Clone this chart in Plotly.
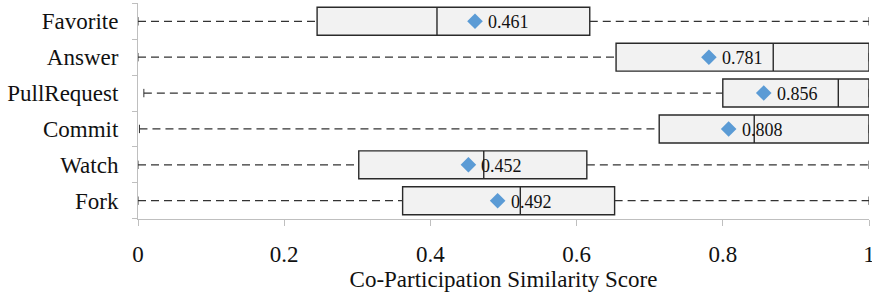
import plotly.graph_objects as go

categories = ["Favorite", "Answer", "PullRequest", "Commit", "Watch", "Fork"]
mins = [0.0, 0.0, 0.008, 0.002, 0.0, 0.0]
q1 = [0.245, 0.654, 0.800, 0.713, 0.302, 0.362]
medians = [0.409, 0.869, 0.958, 0.843, 0.473, 0.523]
q3 = [0.618, 1.0, 1.0, 1.0, 0.614, 0.652]
maxs = [1.0, 1.0, 1.0, 1.0, 1.0, 1.0]
means = [0.461, 0.781, 0.856, 0.808, 0.452, 0.492]
mean_labels = ["0.461", "0.781", "0.856", "0.808", "0.452", "0.492"]
x_ticks = [0, 0.2, 0.4, 0.6, 0.8, 1]
x_tick_labels = ["0", "0.2", "0.4", "0.6", "0.8", "1"]

FONT = "Liberation Serif"
DARK = "#333333"

fig = go.Figure()

# dashed whiskers
wx, wy = [], []
for c, lo, a, b, hi in zip(categories, mins, q1, q3, maxs):
    wx += [lo, a, None, b, hi, None]
    wy += [c, c, None, c, c, None]
fig.add_trace(go.Scatter(x=wx, y=wy, mode="lines",
                         line=dict(color=DARK, width=1.2, dash="8px,5px"),
                         hoverinfo="skip", showlegend=False))
# whisker caps
fig.add_trace(go.Scatter(x=mins + maxs, y=categories + categories, mode="markers",
                         marker=dict(symbol="line-ns", size=6,
                                     line=dict(color=DARK, width=1)),
                         hoverinfo="skip", showlegend=False))

# boxes
fig.add_trace(go.Box(y=categories, q1=q1, median=medians, q3=q3,
                     lowerfence=q1, upperfence=q3, orientation="h",
                     fillcolor="#f2f2f2", line=dict(color="#2a2a2a", width=1.4),
                     whiskerwidth=0, showlegend=False))

# means
fig.add_trace(go.Scatter(x=means, y=categories, mode="markers",
                         marker=dict(symbol="diamond", size=12, color="#5b9bd5"),
                         showlegend=False))
for c, m, lab in zip(categories, means, mean_labels):
    fig.add_annotation(x=m, y=c, text=lab, showarrow=False, xanchor="left",
                       xshift=11, yshift=-1,
                       font=dict(family=FONT, size=18, color="#111111"))

fig.update_layout(
    width=872, height=297,
    margin=dict(l=138, r=3, t=3, b=78),
    plot_bgcolor="white", paper_bgcolor="white",
    boxgap=0.22, boxgroupgap=0,
    font=dict(family=FONT, size=23, color="#111111"),
    showlegend=False,
)
fig.update_xaxes(range=[0, 1], tickvals=x_ticks, ticktext=x_tick_labels,
                 automargin=False, ticklabeloverflow="allow",
                 showgrid=False, zeroline=False, showline=True,
                 linecolor="#bfbfbf", linewidth=1, ticks="outside",
                 tickcolor="#bfbfbf", ticklen=6, ticklabelstandoff=8,
                 tickfont=dict(family=FONT, size=23),
                 title=dict(text="Co-Participation Similarity Score",
                            font=dict(family=FONT, size=23), standoff=0))
fig.update_yaxes(categoryorder="array", categoryarray=categories[::-1],
                 automargin=False,
                 showgrid=False, zeroline=False, showline=True,
                 linecolor="#bfbfbf", linewidth=1, ticks="outside",
                 tickson="boundaries", tickcolor="#bfbfbf", ticklen=5,
                 ticklabelstandoff=14, tickfont=dict(family=FONT, size=23))

fig.write_html("out.html", config={"displayModeBar": False},
               post_script="document.body.style.margin='0';document.body.style.overflow='hidden';")
